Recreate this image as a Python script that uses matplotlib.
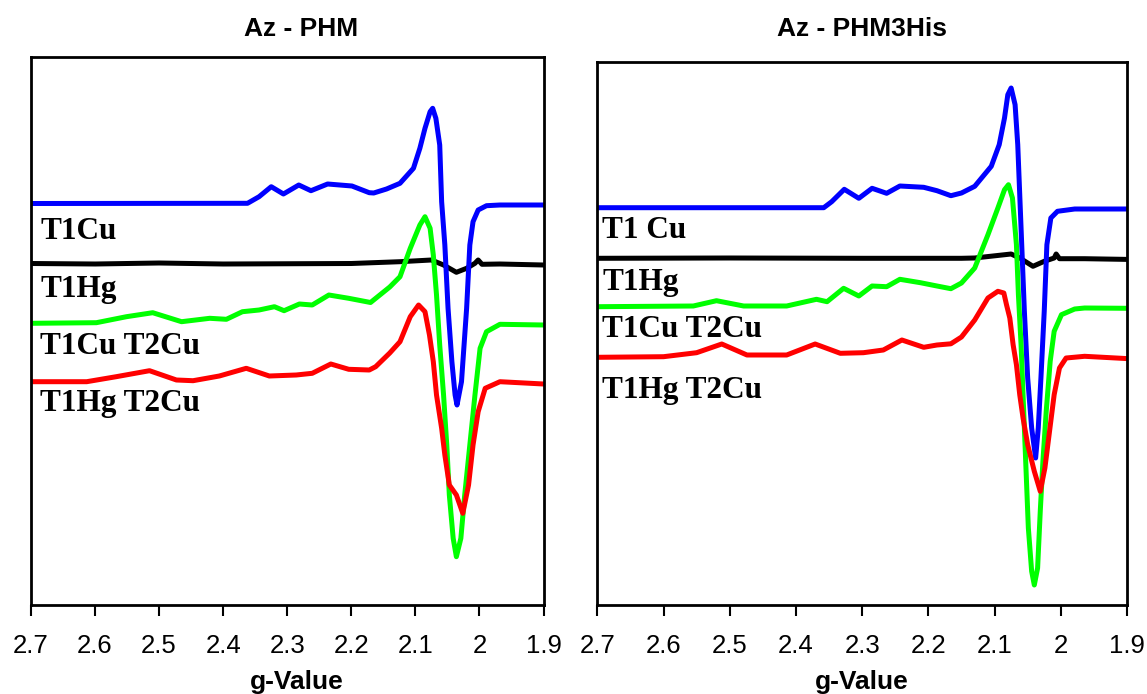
import matplotlib
matplotlib.use("Agg")
import matplotlib.pyplot as plt

plt.rcParams['font.family'] = ['Liberation Sans', 'DejaVu Sans']

# ---- Az - PHM (left panel), intensity in arbitrary units ----
phm_t1cu_g = [2.70, 2.362, 2.344, 2.325, 2.306, 2.282, 2.263, 2.237, 2.199, 2.172,
              2.165, 2.145, 2.124, 2.103, 2.093, 2.085, 2.077, 2.073, 2.068, 2.062,
              2.059, 2.054, 2.049, 2.043, 2.038, 2.035, 2.028, 2.020, 2.015, 2.010,
              2.002, 1.989, 1.968, 1.900]
phm_t1cu_i = [401.5, 401.7, 408.3, 418.3, 411.0, 420.0, 414.3, 421.0, 419.0, 412.3,
              412.0, 416.0, 421.7, 436.7, 456.7, 476.7, 493.3, 496.7, 486.7, 460.0,
              403.3, 360.0, 296.7, 243.3, 210.0, 200.0, 223.3, 296.7, 360.0, 383.3,
              395.0, 399.3, 400.0, 400.0]

phm_t1hg_g = [2.70, 2.60, 2.50, 2.40, 2.20, 2.124, 2.075, 2.056, 2.036, 2.020,
              2.007, 2.002, 1.996, 1.968, 1.900]
phm_t1hg_i = [341.5, 341.0, 342.0, 341.0, 341.5, 343.3, 345.0, 340.0, 332.7, 336.7,
              341.7, 345.0, 340.7, 341.0, 340.0]

phm_t1cut2cu_g = [2.70, 2.598, 2.551, 2.510, 2.465, 2.421, 2.395, 2.370, 2.344, 2.320,
                  2.305, 2.281, 2.261, 2.235, 2.204, 2.170, 2.140, 2.124, 2.108, 2.093,
                  2.085, 2.077, 2.072, 2.067, 2.062, 2.056, 2.051, 2.047, 2.041, 2.036,
                  2.029, 2.023, 2.015, 2.007, 1.999, 1.989, 1.968, 1.900]
phm_t1cut2cu_i = [281.7, 282.3, 288.3, 292.3, 283.3, 286.7, 285.7, 293.3, 295.0, 298.3,
                  294.3, 301.0, 300.0, 310.0, 306.7, 302.5, 318.0, 328.3, 356.7, 380.0,
                  388.3, 376.7, 350.0, 310.0, 260.0, 210.0, 160.0, 110.0, 66.7, 48.3,
                  66.7, 110.0, 160.0, 210.0, 256.7, 273.3, 280.7, 280.0]

phm_t1hgt2cu_g = [2.70, 2.613, 2.567, 2.515, 2.473, 2.447, 2.406, 2.364, 2.328, 2.286,
                  2.261, 2.232, 2.204, 2.172, 2.162, 2.140, 2.124, 2.108, 2.095, 2.085,
                  2.078, 2.072, 2.067, 2.059, 2.054, 2.047, 2.036, 2.026, 2.017, 2.010,
                  2.002, 1.991, 1.968, 1.900]
phm_t1hgt2cu_i = [223.3, 223.3, 228.3, 234.3, 225.0, 224.3, 229.0, 236.7, 229.0, 230.0,
                  231.7, 241.0, 235.7, 235.0, 238.3, 252.0, 263.3, 288.3, 300.0, 293.3,
                  270.0, 243.3, 210.0, 176.7, 150.0, 120.0, 110.0, 91.7, 120.0, 160.0,
                  193.3, 216.7, 223.3, 221.0]

# ---- Az - PHM3His (right panel) ----
his_t1cu_g = [2.70, 2.358, 2.346, 2.327, 2.305, 2.285, 2.263, 2.243, 2.207, 2.187,
              2.166, 2.150, 2.130, 2.105, 2.093, 2.085, 2.080, 2.075, 2.069, 2.065,
              2.062, 2.059, 2.055, 2.050, 2.044, 2.038, 2.034, 2.030, 2.025, 2.021,
              2.015, 2.005, 1.979, 1.900]
his_t1cu_i = [397.3, 397.3, 403.3, 415.7, 406.7, 416.7, 411.7, 419.0, 417.7, 414.3,
              409.3, 412.0, 418.7, 438.7, 460.3, 487.0, 510.3, 517.0, 500.3, 460.3,
              410.3, 360.3, 293.7, 227.0, 177.0, 147.0, 177.0, 227.0, 293.7, 360.3,
              387.0, 393.7, 396.0, 396.0]

his_t1hg_g = [2.70, 2.50, 2.30, 2.15, 2.130, 2.075, 2.062, 2.042, 2.025, 2.010,
              2.007, 2.002, 1.964, 1.900]
his_t1hg_i = [346.7, 347.0, 346.7, 346.7, 347.0, 351.0, 347.0, 338.7, 343.7, 347.0,
              351.0, 346.3, 346.3, 345.6]

his_t1cut2cu_g = [2.70, 2.555, 2.520, 2.479, 2.414, 2.369, 2.353, 2.328, 2.305, 2.285,
                  2.263, 2.243, 2.212, 2.187, 2.166, 2.150, 2.130, 2.110, 2.095, 2.085,
                  2.079, 2.073, 2.067, 2.064, 2.060, 2.056, 2.052, 2.049, 2.044, 2.040,
                  2.035, 2.031, 2.027, 2.022, 2.016, 2.010, 1.999, 1.979, 1.964, 1.900]
his_t1cut2cu_i = [298.3, 299.0, 304.3, 299.0, 299.0, 305.7, 303.3, 316.7, 309.0, 319.0,
                  318.3, 325.7, 322.3, 319.0, 316.3, 322.0, 337.0, 370.3, 397.0, 415.3,
                  420.3, 407.0, 360.3, 310.3, 260.3, 193.7, 127.0, 77.0, 33.7, 20.0,
                  37.0, 93.7, 143.7, 193.7, 243.7, 273.7, 290.3, 296.0, 297.0, 296.7]

his_t1hgt2cu_g = [2.70, 2.600, 2.550, 2.512, 2.474, 2.414, 2.371, 2.333, 2.298, 2.268,
                  2.240, 2.207, 2.187, 2.166, 2.150, 2.130, 2.110, 2.095, 2.086, 2.082,
                  2.077, 2.072, 2.067, 2.062, 2.057, 2.050, 2.040, 2.031, 2.024, 2.017,
                  2.010, 2.002, 1.992, 1.964, 1.900]
his_t1hgt2cu_i = [247.7, 248.3, 252.3, 261.0, 250.0, 250.0, 261.0, 251.7, 252.3, 255.0,
                  265.0, 257.7, 260.0, 261.2, 268.0, 285.0, 307.0, 313.7, 312.0, 300.3,
                  287.0, 260.3, 240.3, 210.3, 187.0, 160.3, 133.7, 113.7, 137.0, 173.7,
                  210.3, 237.0, 247.0, 248.7, 246.4]

g_ticks = [2.7, 2.6, 2.5, 2.4, 2.3, 2.2, 2.1, 2.0, 1.9]
g_tick_labels = ["2.7", "2.6", "2.5", "2.4", "2.3", "2.2", "2.1", "2", "1.9"]

panels = [
    {
        "title": "Az - PHM",
        "series": [(phm_t1hg_g, phm_t1hg_i, "black"),
                   (phm_t1cu_g, phm_t1cu_i, "#0000ff"),
                   (phm_t1cut2cu_g, phm_t1cut2cu_i, "#00ff00"),
                   (phm_t1hgt2cu_g, phm_t1hgt2cu_i, "#ff0000")],
        "labels": ["T1Cu", "T1Hg", "T1Cu T2Cu", "T1Hg T2Cu"],
        "label_y": [0.668, 0.562, 0.458, 0.354],
        "label_x": 0.018,
        "rect": [31 / 1147, 89 / 694, 512.5 / 1147, 548 / 694],
        "ymax": 548,
        "title_x": 301 / 1147,
        "xlabel_x": 0.518,
    },
    {
        "title": "Az - PHM3His",
        "series": [(his_t1hg_g, his_t1hg_i, "black"),
                   (his_t1cu_g, his_t1cu_i, "#0000ff"),
                   (his_t1cut2cu_g, his_t1cut2cu_i, "#00ff00"),
                   (his_t1hgt2cu_g, his_t1hgt2cu_i, "#ff0000")],
        "labels": ["T1 Cu", "T1Hg", "T1Cu T2Cu", "T1Hg T2Cu"],
        "label_y": [0.6746, 0.579, 0.4924, 0.381],
        "label_x": 0.009,
        "rect": [597.3 / 1147, 89 / 694, 529.7 / 1147, 543.3 / 694],
        "ymax": 543.3,
        "title_x": 862 / 1147,
        "xlabel_x": 0.5,
    },
]

fig = plt.figure(figsize=(11.47, 6.94), dpi=100)

for p in panels:
    ax = fig.add_axes(p["rect"])
    for g, inten, col in p["series"]:
        ax.plot(g, inten, color=col, lw=3.6, solid_joinstyle='round')
    ax.set_xlim(2.7, 1.9)
    ax.set_ylim(0, p["ymax"])
    ax.set_yticks([])
    ax.set_xticks(g_ticks)
    ax.set_xticklabels(g_tick_labels)
    ax.tick_params(axis='x', direction='out', length=8, width=1.5, pad=13, labelsize=18.5)
    for s in ax.spines.values():
        s.set_linewidth(2.0)
    for txt, ly in zip(p["labels"], p["label_y"]):
        ax.text(p["label_x"], ly, txt, transform=ax.transAxes, ha='left', va='baseline',
                fontsize=22.5, fontweight='bold', family=['Liberation Serif', 'DejaVu Serif'])
    ax.set_xlabel("g-Value", fontsize=19, fontweight='bold')
    ax.xaxis.set_label_coords(p["xlabel_x"], -84 / p["ymax"])
    ax.xaxis.label.set_va('baseline')
    fig.text(p["title_x"], (694 - 36) / 694, p["title"], ha='center', va='baseline',
             fontsize=19, fontweight='bold')

fig.savefig("out.png", dpi=100)
